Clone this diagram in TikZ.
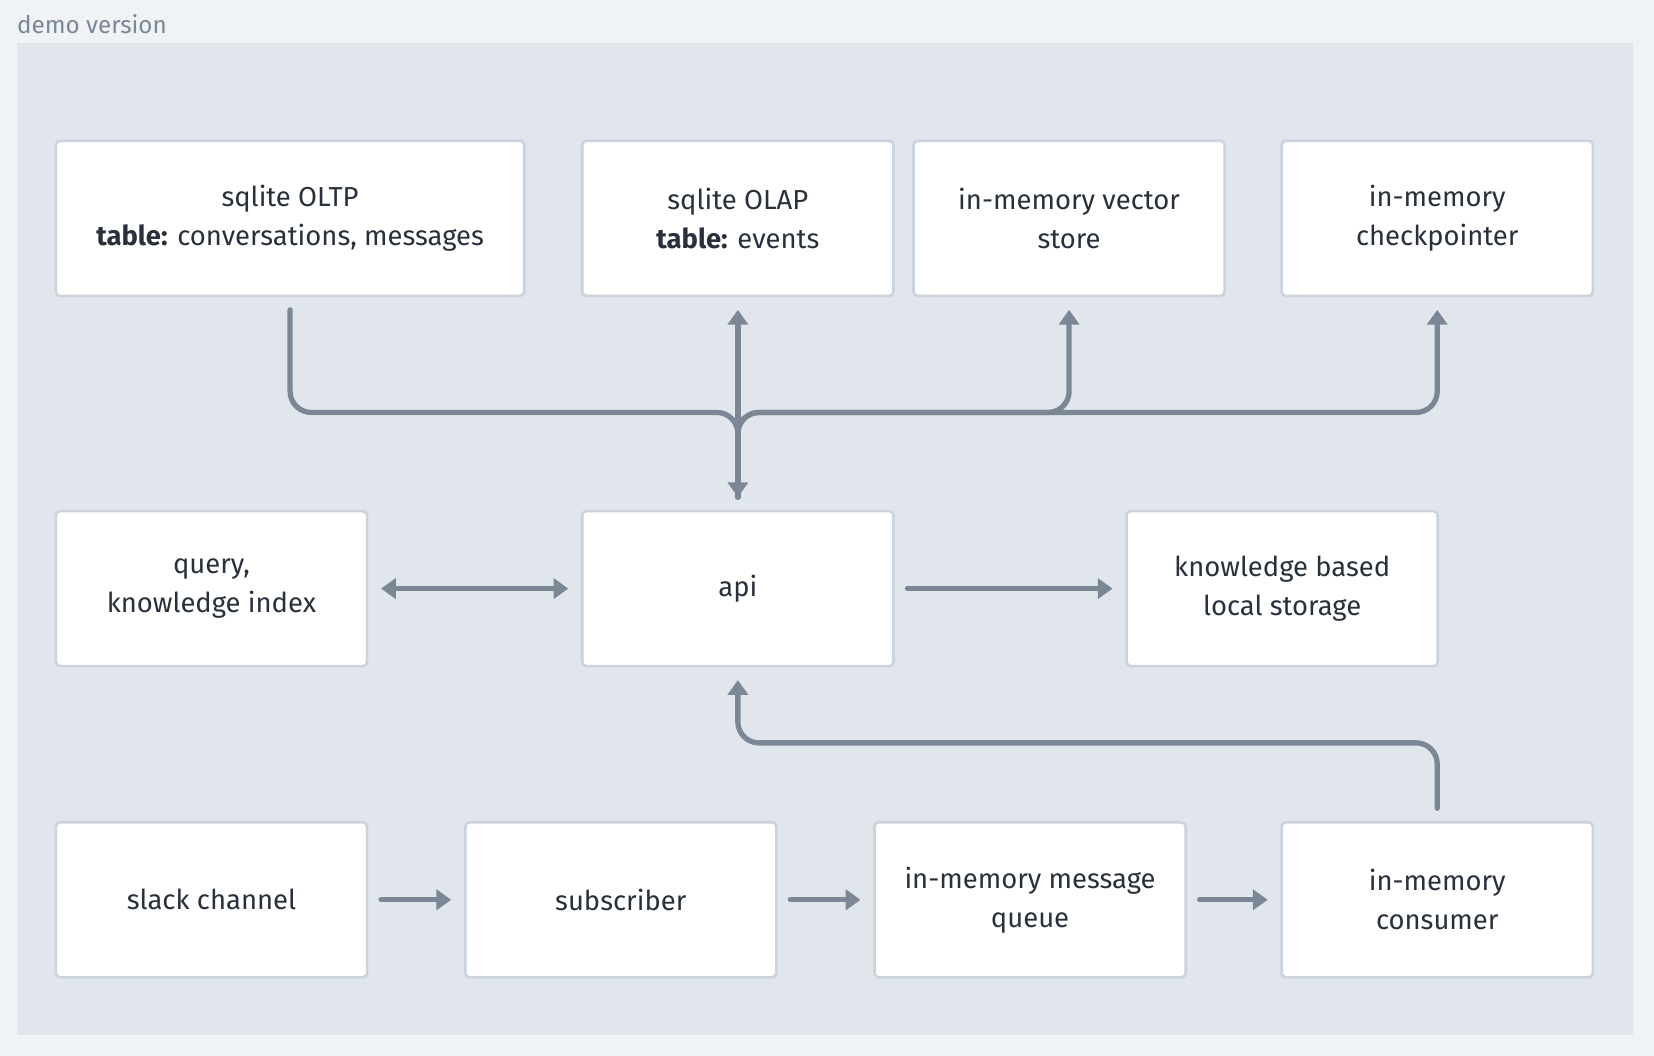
\documentclass[tikz,border=0pt]{standalone}
\usepackage{fontspec}
\setmainfont{Fira Sans}
\usetikzlibrary{positioning, arrows.meta}

\definecolor{pagebg}{HTML}{F0F3F6}
\definecolor{panelbg}{HTML}{E1E6ED}
\definecolor{boxline}{HTML}{CBD3DC}
\definecolor{linkgray}{HTML}{7B8794}
\definecolor{textdark}{HTML}{28303B}

\tikzset{
  box/.style={draw=boxline, line width=2.5pt, fill=white, rounded corners=4pt,
    minimum width=295pt, minimum height=147pt, align=center, text=textdark,
    font=\fontsize{26}{37}\selectfont},
  link/.style={draw=linkgray, line width=5pt, rounded corners=20pt, line cap=round,
    -{Triangle[length=14pt,width=19pt]}, shorten <=12pt, shorten >=12pt}
}

\begin{document}
\begin{tikzpicture}[x=1pt, y=-1pt]
        \fill[pagebg] (0,0) rectangle (1568,1001);
        \useasboundingbox (0,0) rectangle (1568,1001);
        \fill[panelbg] (16,41) rectangle (1548,981);
        \node[anchor=base west, text=linkgray, inner sep=0pt,
              font=\fontsize{23}{26}\selectfont] (title) at (16,32) {demo version};

        % top row
        \node[box, minimum width=444pt] (oltp) at (275,207) {sqlite OLTP\\\textbf{table:} conversations, messages};
        \node[box] (olap) at (699.5,207) {sqlite OLAP\\\textbf{table:} events};
        \node[box] (vec) at (1013.5,207) {in-memory vector\\store};
        \node[box] (ckpt) at (1362.5,207) {in-memory\\checkpointer};

        % middle row
        \node[box] (query) at (200.5,558) {query,\\knowledge index};
        \node[box] (api) at (699.5,558) {api};
        \node[box] (kb) at (1215.5,558) {knowledge based\\local storage};

        % bottom row
        \node[box] (slack) at (200.5,853) {slack channel};
        \node[box, right=90.5pt of slack] (sub) {subscriber};
        \node[box, right=90.5pt of sub] (queue) {in-memory message\\queue};
        \node[box, right=88.5pt of queue] (cons) {in-memory\\consumer};

        \coordinate (bus) at (699.5,391);

        \draw[link] (oltp.south) |- (bus) -- (api.north);
        \draw[link] (api.north) -- (olap.south);
        \draw[link] (api.north) -- (bus) -| (vec.south);
        \draw[link] (api.north) -- (bus) -| (ckpt.south);

        \draw[link, {Triangle[length=14pt,width=19pt]}-{Triangle[length=14pt,width=19pt]}] (query) -- (api);
        \draw[link] (api) -- (kb);
        \draw[link] (cons.north) -- ++(0,-74) -| (api.south);

        \draw[link] (slack) -- (sub);
        \draw[link] (sub) -- (queue);
        \draw[link] (queue) -- (cons);
\end{tikzpicture}
\end{document}
